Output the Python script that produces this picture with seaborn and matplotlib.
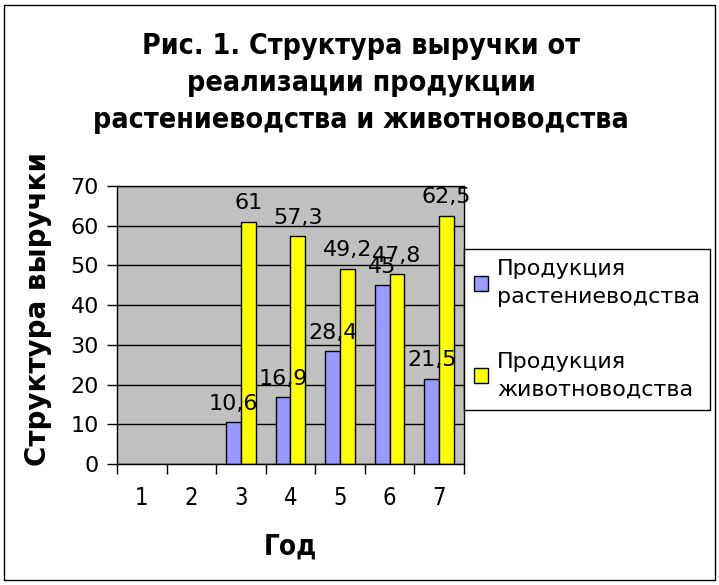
import numpy as np
import pandas as pd
import matplotlib
matplotlib.use('Agg')
import matplotlib.pyplot as plt
from matplotlib.patches import Rectangle
import seaborn as sns

# Данные
Годы = [1, 2, 3, 4, 5, 6, 7]
Растениеводство = [np.nan, np.nan, 10.6, 16.9, 28.4, 45, 21.5]
Животноводство = [np.nan, np.nan, 61, 57.3, 49.2, 47.8, 62.5]
Серии = ['Продукция\nрастениеводства', 'Продукция\nживотноводства']
Цвета = ['#9999FF', '#FFFF00']

df = pd.DataFrame({
    'Год': Годы * 2,
    'Значение': Растениеводство + Животноводство,
    'Серия': [Серии[0]] * len(Годы) + [Серии[1]] * len(Годы),
})

sns.set_style('white')
plt.rcParams['font.family'] = ['DejaVu Sans']
plt.rcParams['text.color'] = 'black'
plt.rcParams['axes.labelcolor'] = 'black'
plt.rcParams['xtick.color'] = 'black'
plt.rcParams['ytick.color'] = 'black'

fig = plt.figure(figsize=(7.19, 5.85), dpi=100)
ax = fig.add_axes([0.1627, 0.2068, 0.4826, 0.4752])
ax.set_facecolor('#C0C0C0')

sns.barplot(data=df, x='Год', y='Значение', hue='Серия', order=Годы,
            hue_order=Серии, palette=Цвета, width=0.6, saturation=1,
            edgecolor='black', linewidth=1, ax=ax)

for c in ax.containers:
    ax.bar_label(c, fmt=lambda v: f'{v:g}'.replace('.', ','), padding=6, fontsize=16)

ax.set_xlim(-0.5, 6.5)
ax.set_ylim(0, 70)
ax.set_yticks(range(0, 71, 10))
ax.yaxis.grid(True, color='black', lw=1)
ax.set_axisbelow(True)
for s in ax.spines.values():
    s.set_color('black')
    s.set_linewidth(1)

ax.set_xticks(np.arange(-0.5, 7, 1), minor=True)
ax.tick_params(axis='x', which='major', length=0, pad=16, labelsize=17)
ax.tick_params(axis='x', which='minor', length=7, direction='out', width=1)
ax.tick_params(axis='y', length=7, direction='out', width=1, labelsize=16, pad=6)
ax.tick_params(left=True, bottom=True)
ax.xaxis.set_tick_params(which='minor', bottom=True)
for t in ax.get_xticklabels():
    t.set_fontstretch('condensed')

ax.set_xlabel('Год', fontsize=20, fontweight='bold', fontstretch='condensed')
ax.xaxis.set_label_coords(0.5, -0.248)
ax.set_ylabel('Структура выручки', fontsize=20, fontweight='bold')
ax.yaxis.set_label_coords(-0.187, 0.558)

h, l = ax.get_legend_handles_labels()
ax.get_legend().remove()
leg = fig.legend(h, l, loc='center left', bbox_to_anchor=(0.6453, 0.437), fontsize=16,
                 frameon=True, fancybox=False, edgecolor='black', framealpha=1,
                 handlelength=0.65, handleheight=0.65, handletextpad=0.4,
                 labelspacing=2.0, borderpad=0.45, borderaxespad=0)
for t in leg.get_texts():
    t.set_linespacing(1.5)

fig.text(0.502, 0.858, 'Рис. 1. Структура выручки от\nреализации продукции\nрастениеводства и животноводства',
         ha='center', va='center', fontsize=20.5, fontweight='bold', fontstretch='condensed',
         linespacing=1.4)

fig.patches.append(Rectangle((4 / 719, 5 / 585), 711 / 719, 575 / 585, transform=fig.transFigure,
                             fill=False, edgecolor='black', lw=1))

plt.savefig('out.png', dpi=100)
